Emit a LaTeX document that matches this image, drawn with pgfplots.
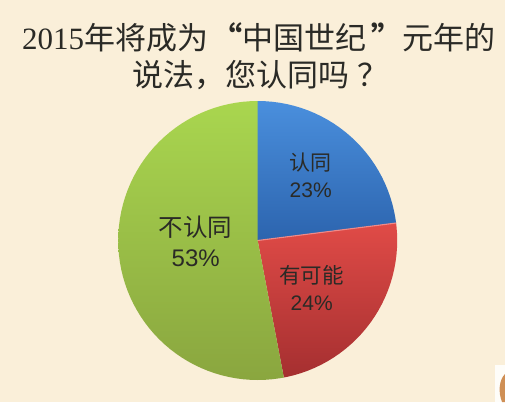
\documentclass[border=0pt]{standalone}
\usepackage{fontspec}
\setmainfont{Liberation Serif}
\newfontfamily\cjk{Noto Sans CJK SC}
\newfontfamily\lab{Liberation Sans}
\usepackage{pgfplots}
\usepgfplotslibrary{polar}
\pgfplotsset{compat=1.18}

\definecolor{paper}{HTML}{FAEFD9}
\definecolor{ink}{HTML}{2A2A26}
\definecolor{blue1}{HTML}{4A8FDD}
\definecolor{blue2}{HTML}{2C64AE}
\definecolor{red1}{HTML}{E04B47}
\definecolor{red2}{HTML}{A52F30}
\definecolor{redge}{HTML}{F08A88}
\definecolor{green1}{HTML}{A9D64F}
\definecolor{green2}{HTML}{8AA63F}
\definecolor{blob}{HTML}{CF8F55}

\begin{document}
\begin{tikzpicture}[x=1pt,y=1pt]
  % page background, same size as the reference
  \fill[paper] (0,0) rectangle (505,402);
  \fill[white!85!paper] (495,0) rectangle (505,37);
  \fill[blob] (505,28) .. controls (499,22) and (498,10) .. (502,0) -- (505,0) -- cycle;

  \begin{polaraxis}[
    at={(257.7pt,161.5pt)}, anchor=center,
    scale only axis, width=279pt, height=279pt,
    xmin=0, xmax=360, ymin=0, ymax=1,
    hide axis, clip=false,
  ]
  % 23 %
  \addplot[draw=none, top color=blue1, bottom color=blue2] coordinates {
    (90,0)(90,1)(87,1)(84,1)(81,1)(78,1)(75,1)(72,1)(69,1)(66,1)(63,1)(60,1)(57,1)(54,1)(51,1)
    (48,1)(45,1)(42,1)(39,1)(36,1)(33,1)(30,1)(27,1)(24,1)(21,1)(18,1)(15,1)(12,1)(9,1)(7.2,1)
  } --cycle;
  % 24 %
  \addplot[draw=none, top color=red1, bottom color=red2] coordinates {
    (7.2,0)(7.2,1)(6,1)(3,1)(0,1)(357,1)(354,1)(351,1)(348,1)(345,1)(342,1)(339,1)(336,1)(333,1)
    (330,1)(327,1)(324,1)(321,1)(318,1)(315,1)(312,1)(309,1)(306,1)(303,1)(300,1)(297,1)(294,1)
    (291,1)(288,1)(285,1)(282,1)(280.8,1)
  } --cycle;
  % 53 %
  \addplot[draw=none, top color=green1, bottom color=green2] coordinates {
    (280.8,0)(280.8,1)(279,1)(276,1)(273,1)(270,1)(267,1)(264,1)(261,1)(258,1)(255,1)(252,1)(249,1)
    (246,1)(243,1)(240,1)(237,1)(234,1)(231,1)(228,1)(225,1)(222,1)(219,1)(216,1)(213,1)(210,1)
    (207,1)(204,1)(201,1)(198,1)(195,1)(192,1)(189,1)(186,1)(183,1)(180,1)(177,1)(174,1)(171,1)
    (168,1)(165,1)(162,1)(159,1)(156,1)(153,1)(150,1)(147,1)(144,1)(141,1)(138,1)(135,1)(132,1)
    (129,1)(126,1)(123,1)(120,1)(117,1)(114,1)(111,1)(108,1)(105,1)(102,1)(99,1)(96,1)(93,1)(90,1)
  } --cycle;
  % light edge along the top of the red slice
  \addplot[draw=redge, line width=1.1pt] coordinates {(7.2,0)(7.2,1)};
  \end{polaraxis}

  % title, two separately placed lines
  \node[ink, inner sep=0, anchor=center] at (258.5,365) {\fontsize{31}{31}\selectfont 2015{\cjk 年将成为\hspace{3pt}{\bfseries “}中国世纪\hspace{5pt}{\bfseries ”}元年的}};
  \node[ink, inner sep=0, anchor=center] at (260,327) {\fontsize{31}{31}\selectfont\cjk 说法，您认同吗\hspace{8pt}？};

  % slice labels
  \node[ink, inner sep=0] at (310.7,239) {\fontsize{21}{21}\selectfont\cjk 认同};
  \node[ink, inner sep=0] at (310.7,212) {\fontsize{21}{21}\selectfont\lab 23\%};
  \node[ink, inner sep=0] at (195.7,174.3) {\fontsize{24.5}{24.5}\selectfont\cjk 不认同};
  \node[ink, inner sep=0] at (195.7,144) {\fontsize{24}{24}\selectfont\lab 53\%};
  \node[ink, inner sep=0] at (311.7,126.3) {\fontsize{21.5}{21.5}\selectfont\cjk 有可能};
  \node[ink, inner sep=0] at (311.7,99) {\fontsize{21}{21}\selectfont\lab 24\%};
\end{tikzpicture}
\end{document}
